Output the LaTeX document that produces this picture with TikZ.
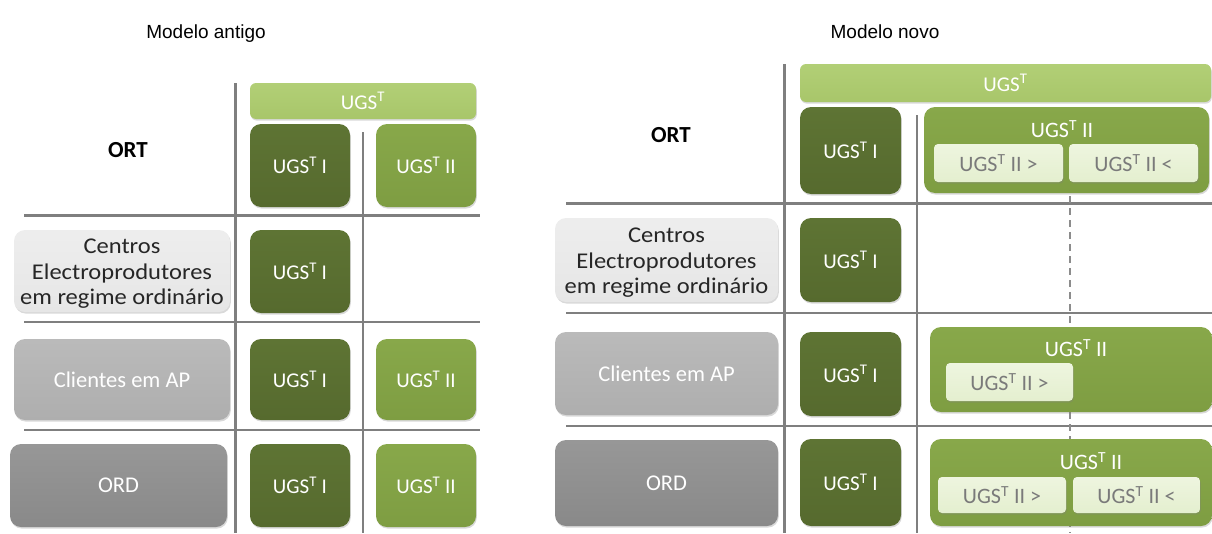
\documentclass[tikz,border=0pt]{standalone}
\usepackage{fontspec}
\setmainfont{Carlito}
\newfontfamily\titlefont{Liberation Sans}
\newfontfamily\centfont[FakeStretch=1.09]{Carlito}
\usetikzlibrary{shadows}
\definecolor{dkgreen}{HTML}{566A2E}
\definecolor{dkgreentop}{HTML}{5E7434}
\definecolor{mdgreen}{HTML}{7E9D42}
\definecolor{mdgreentop}{HTML}{88A84A}
\definecolor{ltgreen}{HTML}{A8C66A}
\definecolor{ltgreentop}{HTML}{B2CF76}
\definecolor{palegreen}{HTML}{E4EFCF}
\definecolor{palegreentop}{HTML}{EEF5DF}
\definecolor{gridgray}{HTML}{7F7F7F}
\definecolor{textgray}{HTML}{7A7A7A}
\definecolor{boxlight}{HTML}{E6E6E6}
\definecolor{boxmid}{HTML}{AEAEAE}
\definecolor{boxdark}{HTML}{898989}
\begin{document}
\begin{tikzpicture}[x=1pt,y=-1pt,
  base/.style={inner sep=0pt, align=center, font=\fontsize{21}{26.5}\selectfont,
    drop shadow={opacity=0.3,shadow xshift=0.8pt,shadow yshift=-1.6pt}},
  dkbox/.style={base, rounded corners=11pt, top color=dkgreentop, bottom color=dkgreen, text=white},
  mdbox/.style={base, rounded corners=11pt, top color=mdgreentop, bottom color=mdgreen, text=white},
  ctbox/.style={base, rounded corners=11pt, top color=mdgreentop, bottom color=mdgreen},
  barbox/.style={base, rounded corners=6pt, top color=ltgreentop, bottom color=ltgreen, text=white},
  palebox/.style={base, rounded corners=4pt, top color=palegreentop, bottom color=palegreen, text=textgray, font=\fontsize{22}{26}\selectfont},
  centbox/.style={base, rounded corners=11pt, top color=boxlight!70!white, bottom color=boxlight},
  centtext/.style={inner sep=0pt, align=center, text=black!85, font=\centfont\fontsize{22.5}{25.5}\selectfont},
  clibox/.style={base, rounded corners=11pt, top color=boxmid!85!white, bottom color=boxmid, text=white, font=\fontsize{22.5}{26}\selectfont},
  ordbox/.style={base, rounded corners=11pt, top color=boxdark!88!white, bottom color=boxdark, text=white, font=\fontsize{22.5}{26}\selectfont},
  lbl/.style={inner sep=0pt, font=\fontsize{22}{26}\selectfont, text=white},
  title/.style={inner sep=0pt, anchor=base, font=\titlefont\fontsize{19}{23}\selectfont},
  ort/.style={inner sep=0pt, font=\bfseries\fontsize{23}{26}\selectfont},
  grid/.style={draw=gridgray, line width=3pt},
  gridthin/.style={draw=gridgray, line width=2pt},
  dashline/.style={draw=gridgray!90, line width=1.3pt, dash pattern=on 7pt off 5pt}]
\useasboundingbox (0,0) rectangle (1212,533);

% ---------- grid coordinates ----------
\coordinate (lv1a) at (235,83);   \coordinate (lv1b) at (235,533);
\coordinate (lv2a) at (363,132);  \coordinate (lv2b) at (363,533);
\coordinate (lh1a) at (24,215);   \coordinate (lh1b) at (480,215);
\coordinate (lh2a) at (24,322);   \coordinate (lh2b) at (480,322);
\coordinate (lh3a) at (24,430);   \coordinate (lh3b) at (480,430);
\coordinate (rv1a) at (784,64);   \coordinate (rv1b) at (784,533);
\coordinate (rv2a) at (917,115);  \coordinate (rv2b) at (917,533);
\coordinate (rh1a) at (566,203);  \coordinate (rh1b) at (1212,203);
\coordinate (rh2a) at (566,313);  \coordinate (rh2b) at (1212,313);
\coordinate (rh3a) at (566,426);  \coordinate (rh3b) at (1212,426);
\coordinate (rda) at (1070,196);  \coordinate (rdb) at (1070,533);

\draw[grid] (lv1a) -- (lv1b);
\draw[gridthin] (lv2a) -- (lv2b);
\draw[grid] (lh1a) -- (lh1b);
\draw[gridthin] (lh2a) -- (lh2b);
\draw[gridthin] (lh3a) -- (lh3b);
\draw[grid] (rv1a) -- (rv1b);
\draw[gridthin] (rv2a) -- (rv2b);
\draw[grid] (rh1a) -- (rh1b);
\draw[gridthin] (rh2a) -- (rh2b);
\draw[gridthin] (rh3a) -- (rh3b);
\draw[dashline] (rda) -- (rdb);

% ---------- left: Modelo antigo ----------
\node[title] (tl) at (206,38) {Modelo antigo};
\node[barbox, minimum width=226, minimum height=36] (lbar) at (363,101) {UGS\textsuperscript{T}};
\node[ort] (lort) at (128,150) {ORT};
\node[dkbox, minimum width=100, minimum height=83] (l11) at (300,165.5) {UGS\textsuperscript{T} I};
\node[mdbox, minimum width=100, minimum height=83] (l12) at (426,165.5) {UGS\textsuperscript{T} II};
\node[centbox, minimum width=216, minimum height=82] (lcent) at (122,271) {};
\node[centtext] (lcentt) at (122,274) {Centros\\Electroprodutores\\em regime ordinário};
\node[dkbox, minimum width=100, minimum height=83] (l21) at (300,271.5) {UGS\textsuperscript{T} I};
\node[clibox, minimum width=216, minimum height=81] (lcli) at (122,379.5) {Clientes em AP};
\node[dkbox, minimum width=100, minimum height=81] (l31) at (300,379.5) {UGS\textsuperscript{T} I};
\node[mdbox, minimum width=100, minimum height=81] (l32) at (426,379.5) {UGS\textsuperscript{T} II};
\node[ordbox, minimum width=217, minimum height=83] (lord) at (118.5,485.5) {ORD};
\node[dkbox, minimum width=100, minimum height=83] (l41) at (300,485.5) {UGS\textsuperscript{T} I};
\node[mdbox, minimum width=100, minimum height=83] (l42) at (426,485.5) {UGS\textsuperscript{T} II};

% ---------- right: Modelo novo ----------
\node[title] (tr) at (885,38) {Modelo novo};
\node[barbox, minimum width=411, minimum height=38] (rbar) at (1005.5,83) {UGS\textsuperscript{T}};
\node[ort] (rort) at (671,135) {ORT};
\node[dkbox, minimum width=101, minimum height=87] (r11) at (850.5,150.5) {UGS\textsuperscript{T} I};
\node[ctbox, minimum width=285, minimum height=86] (r12) at (1066.5,150) {};
\node[lbl] (r12l) at (1062,129) {UGS\textsuperscript{T} II};
\node[palebox, minimum width=129, minimum height=38] (r12a) at (998.5,163) {UGS\textsuperscript{T} II >};
\node[palebox, minimum width=129, minimum height=38] (r12b) at (1133.5,163) {UGS\textsuperscript{T} II <};

\node[centbox, minimum width=223, minimum height=84] (rcent) at (666.5,260) {};
\node[centtext] (rcentt) at (666.5,263) {Centros\\Electroprodutores\\em regime ordinário};
\node[dkbox, minimum width=101, minimum height=84] (r21) at (850.5,260) {UGS\textsuperscript{T} I};

\node[clibox, minimum width=223, minimum height=83] (rcli) at (666.5,373.5) {Clientes em AP};
\node[dkbox, minimum width=101, minimum height=84] (r31) at (850.5,374) {UGS\textsuperscript{T} I};
\node[ctbox, minimum width=282, minimum height=85] (r32) at (1071,369.5) {};
\node[lbl] (r32l) at (1076,348) {UGS\textsuperscript{T} II};
\node[palebox, minimum width=127, minimum height=38] (r32a) at (1009.5,382) {UGS\textsuperscript{T} II >};

\node[ordbox, minimum width=223, minimum height=86] (rord) at (666.5,483) {ORD};
\node[dkbox, minimum width=101, minimum height=87] (r41) at (850.5,482.5) {UGS\textsuperscript{T} I};
\node[ctbox, minimum width=282, minimum height=87] (r42) at (1071,482.5) {};
\node[lbl] (r42l) at (1091,461) {UGS\textsuperscript{T} II};
\node[palebox, minimum width=128, minimum height=36] (r42a) at (1002,495) {UGS\textsuperscript{T} II >};
\node[palebox, minimum width=127, minimum height=36] (r42b) at (1136.5,495) {UGS\textsuperscript{T} II <};
\end{tikzpicture}
\end{document}
